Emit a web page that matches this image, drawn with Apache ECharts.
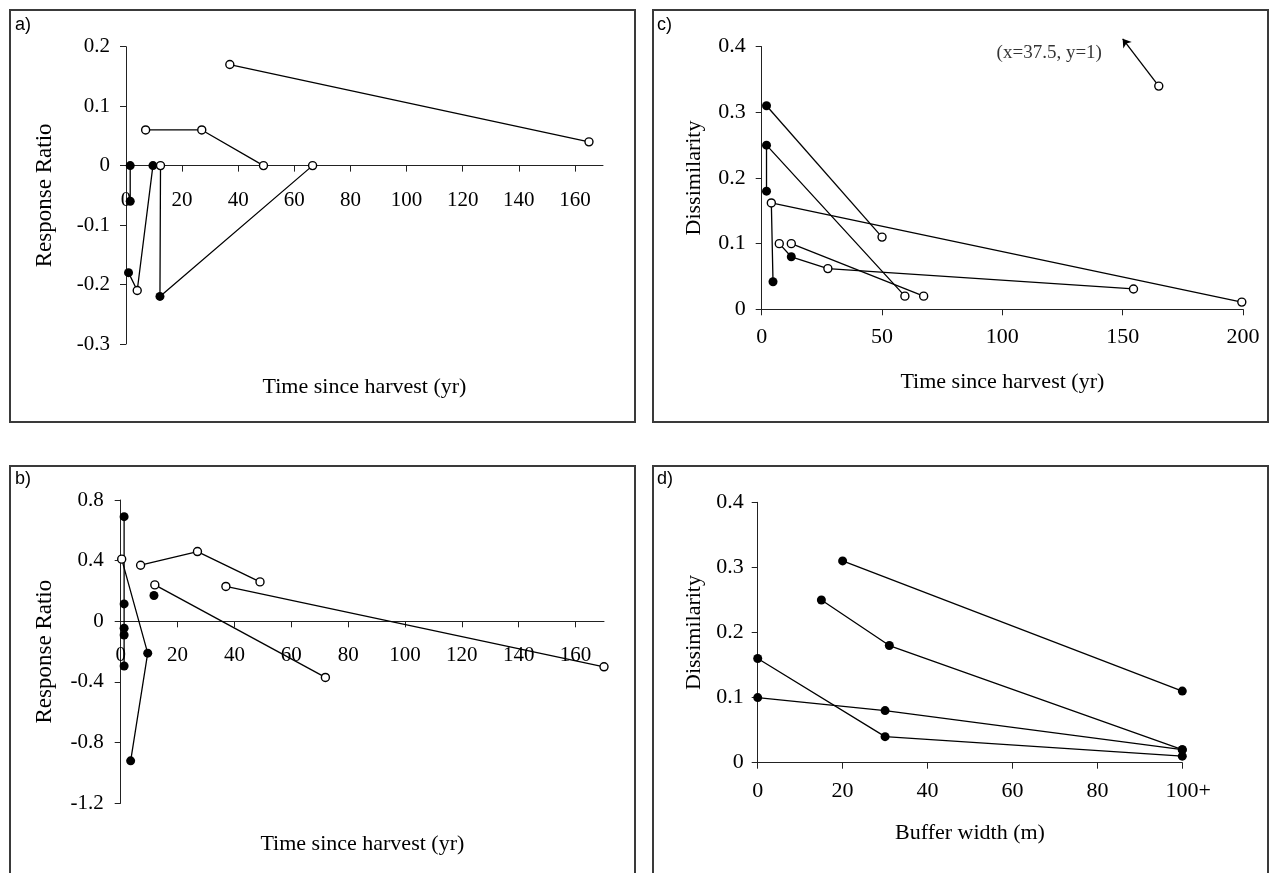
<!DOCTYPE html>
<html><head><meta charset="utf-8">
<script src="https://cdn.jsdelivr.net/npm/echarts@6/dist/echarts.min.js"></script>
<style>html,body{margin:0;padding:0;background:#fff}#c{width:1270px;height:873px}</style>
</head><body><div id="c"></div>
<script>
// Each point: [x, y, filled (1) or open (0)]
// Panel a) Response Ratio vs time since harvest
const a1 = [[37,0.17,0],[165,0.04,0]];
const a2 = [[7,0.06,0],[27,0.06,0],[49,0,0]];
const a3 = [[1.5,0,1],[1.5,-0.06,1]];
const a4 = [[0.9,-0.18,1],[4,-0.21,0],[9.6,0,1]];
const a5 = [[12.3,0,0],[12.1,-0.22,1],[66.5,0,0]];
// Panel b) Response Ratio vs time since harvest
const b1 = [[1.2,0.69,1],[1.2,0.115,1],[1.2,-0.045,1],[1.2,-0.09,1],[1.2,-0.295,1]];
const b2 = [[0.35,0.41,0],[9.5,-0.21,1],[3.5,-0.92,1]];
const b3 = [[7,0.37,0],[27,0.46,0],[49,0.26,0]];
const b4 = [[12,0.24,0],[72,-0.37,0]];
const b5 = [[11.7,0.17,1]];
const b6 = [[37,0.23,0],[170,-0.30,0]];
// Panel c) Dissimilarity vs time since harvest
const c1 = [[2,0.31,1],[50,0.11,0]];
const c2 = [[2,0.18,1],[2,0.25,1],[59.5,0.02,0]];
const c3 = [[4.7,0.042,1],[4,0.162,0],[199.5,0.011,0]];
const c4 = [[7.3,0.10,0],[12.3,0.08,1],[27.5,0.062,0],[154.5,0.031,0]];
const c5 = [[12.3,0.10,0],[67.3,0.02,0]];
const c6 = [[165,0.34,0]];
const cArrow = [[165,0.34],[150,0.412]];
const cNotePos = [119.5,0.39];
const cNote = '(x=37.5, y=1)';
// Panel d) Dissimilarity vs buffer width
const d1 = [[20,0.31,1],[100,0.11,1]];
const d2 = [[15,0.25,1],[31,0.18,1],[100,0.02,1]];
const d3 = [[0,0.16,1],[30,0.04,1],[100,0.01,1]];
const d4 = [[0,0.10,1],[30,0.08,1],[100,0.02,1]];
// Axis ranges and tick labels
const aYRange = [-0.3, 0.2, 0.1];
const bYRange = [-1.2, 0.8, 0.4];
const cdYRange = [0, 0.4, 0.1];
const abXTicks = [0,20,40,60,80,100,120,140,160];
const dLastLabel = '100+';

const SERIF = '"Liberation Serif","Times New Roman",serif';
const SANS = '"Liberation Sans",Arial,sans-serif';

const grids = [
  {left:126, top:46.7, width:477, height:297.3},
  {left:120.7, top:500, width:483.3, height:303.3},
  {left:761.7, top:46.7, width:481.3, height:262.6},
  {left:757.7, top:502.3, width:424.6, height:260.4}
];
// x axis of a) and b) crosses the y axis at 0: shift it up from the grid bottom
function zeroOffset(gi, r){ return -grids[gi].height * (0 - r[0]) / (r[1] - r[0]); }

function pt(p){
  return {
    value:[p[0],p[1]],
    symbolSize: p[2] ? 9 : 8,
    itemStyle: p[2] ? {color:'#000',borderColor:'#000',borderWidth:0}
                    : {color:'#fff',borderColor:'#000',borderWidth:1.4}
  };
}
function ser(points, gi){
  return {
    type:'line', xAxisIndex:gi, yAxisIndex:gi, data:points.map(pt),
    symbol:'circle', showAllSymbol:true, clip:false, silent:true,
    lineStyle:{color:'#000',width:1.3}, z:3
  };
}
function yAx(gi,r,name,gap,fs,nfs,lblMargin){
  return {
    type:'value', gridIndex:gi, min:r[0], max:r[1], interval:r[2],
    name:name, nameLocation:'middle', nameGap:gap, nameRotate:90,
    nameTextStyle:{fontFamily:SERIF,fontSize:nfs,color:'#000'},
    axisLine:{show:true,onZero:false,lineStyle:{color:'#222',width:1}},
    axisTick:{show:true,length:6,lineStyle:{color:'#222'}},
    axisLabel:{color:'#000',fontFamily:SERIF,fontSize:fs,margin:lblMargin,
      formatter:function(v){return String(+(+v).toFixed(2));}},
    splitLine:{show:false}
  };
}
function xAb(gi, r, lblMargin, nameGap){
  return {type:'value', gridIndex:gi, min:0, max:170, position:'bottom',
     offset: zeroOffset(gi, r),
     name:'Time since harvest (yr)', nameLocation:'middle', nameGap:nameGap,
     nameTextStyle:{fontFamily:SERIF,fontSize:22,color:'#000'},
     axisLine:{show:true,onZero:false,lineStyle:{color:'#222',width:1}},
     axisTick:{show:true,length:6,customValues:abXTicks,lineStyle:{color:'#222'}},
     axisLabel:{color:'#000',fontFamily:SERIF,fontSize:21,margin:lblMargin,customValues:abXTicks},
     splitLine:{show:false}};
}

const option = {
  animation:false,
  backgroundColor:'#fff',
  grid: grids.map(g => Object.assign({containLabel:false, outerBoundsMode:'none'}, g)),
  xAxis:[
    xAb(0, aYRange, 24, 211),
    xAb(1, bYRange, 24, 212),
    {type:'value', gridIndex:2, min:0, max:200, interval:50,
     name:'Time since harvest (yr)', nameLocation:'middle', nameGap:62,
     nameTextStyle:{fontFamily:SERIF,fontSize:22,color:'#000'},
     axisLine:{show:true,onZero:false,lineStyle:{color:'#222',width:1}},
     axisTick:{show:true,length:6,lineStyle:{color:'#222'}},
     axisLabel:{color:'#000',fontFamily:SERIF,fontSize:22,margin:17},
     splitLine:{show:false}},
    {type:'value', gridIndex:3, min:0, max:100, interval:20,
     name:'Buffer width (m)', nameLocation:'middle', nameGap:60,
     nameTextStyle:{fontFamily:SERIF,fontSize:22,color:'#000'},
     axisLine:{show:true,onZero:false,lineStyle:{color:'#222',width:1}},
     axisTick:{show:true,length:6,lineStyle:{color:'#222'}},
     axisLabel:{color:'#000',fontFamily:SERIF,fontSize:22,margin:18,
       formatter:function(v){return v===100 ? '{p|'+dLastLabel+'}' : String(v);},
       rich:{p:{fontFamily:SERIF,fontSize:22,color:'#000',padding:[0,0,0,12]}}},
     splitLine:{show:false}}
  ],
  yAxis:[
    yAx(0,aYRange,'Response Ratio',70,21,23,16),
    yAx(1,bYRange,'Response Ratio',64,21,23,17),
    yAx(2,cdYRange,'Dissimilarity',56,22,22,16),
    yAx(3,cdYRange,'Dissimilarity',52,22,22,14)
  ],
  series:[
    ser(a1,0),ser(a2,0),ser(a3,0),ser(a4,0),ser(a5,0),
    ser(b1,1),ser(b2,1),ser(b3,1),ser(b4,1),ser(b5,1),ser(b6,1),
    ser(c1,2),ser(c2,2),ser(c3,2),ser(c4,2),ser(c5,2),ser(c6,2),
    ser(d1,3),ser(d2,3),ser(d3,3),ser(d4,3),
    {type:'lines', coordinateSystem:'cartesian2d', xAxisIndex:2, yAxisIndex:2,
     clip:false, silent:true, z:2,
     data:[{coords:cArrow}], symbol:['none','arrow'], symbolSize:[0,8],
     lineStyle:{color:'#000',width:1.3,opacity:1}},
    {type:'scatter', xAxisIndex:2, yAxisIndex:2, silent:true,
     data:[cNotePos], symbolSize:1, itemStyle:{color:'rgba(0,0,0,0)'},
     label:{show:true, position:'inside', formatter:cNote,
       fontFamily:SERIF, fontSize:19, color:'#000'}}
  ],
  graphic:[
    {type:'rect', shape:{x:10,y:10,width:625,height:412}, style:{fill:'none',stroke:'#3a3a3a',lineWidth:2}, silent:true},
    {type:'rect', shape:{x:10,y:466,width:625,height:420}, style:{fill:'none',stroke:'#3a3a3a',lineWidth:2}, silent:true},
    {type:'rect', shape:{x:653,y:10,width:615,height:412}, style:{fill:'none',stroke:'#3a3a3a',lineWidth:2}, silent:true},
    {type:'rect', shape:{x:653,y:466,width:615,height:420}, style:{fill:'none',stroke:'#3a3a3a',lineWidth:2}, silent:true},
    {type:'text', left:15, top:16, style:{text:'a)', font:'18px '+SANS, fill:'#000'}},
    {type:'text', left:15, top:470, style:{text:'b)', font:'18px '+SANS, fill:'#000'}},
    {type:'text', left:657, top:16, style:{text:'c)', font:'18px '+SANS, fill:'#000'}},
    {type:'text', left:657, top:470, style:{text:'d)', font:'18px '+SANS, fill:'#000'}}
  ]
};
const chart = echarts.init(document.getElementById('c'), null, {renderer:'canvas'});
chart.setOption(option);
</script>
</body></html>
